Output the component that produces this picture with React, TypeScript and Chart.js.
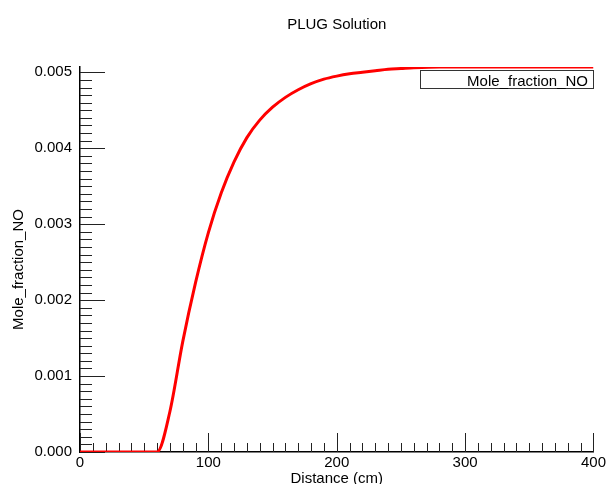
import React, { useEffect, useRef } from "react";
import { Chart, registerables } from "chart.js";

Chart.register(...registerables);

const distances = [0, 60, 70, 80, 90, 100, 110, 120, 130, 140, 150, 160, 170, 180, 190, 200, 210, 220, 230, 240, 250, 260, 280, 300, 320, 340, 360, 380, 400];
const moleFractionNO = [0, 0, 0.00053, 0.00145, 0.00223, 0.00289, 0.00341, 0.00382, 0.00414, 0.00437, 0.00454, 0.00467, 0.00477, 0.00485, 0.00491, 0.00495, 0.00498, 0.005, 0.00502, 0.00504, 0.00505, 0.00506, 0.00507, 0.00507, 0.00507, 0.00507, 0.00507, 0.00507, 0.00507];
const xTickValues = [0, 100, 200, 300, 400];
const yTickValues = [0, 0.001, 0.002, 0.003, 0.004, 0.005];

const chartTitle = "PLUG Solution";
const xTitle = "Distance (cm)";
const yTitle = "Mole_fraction_NO";
const seriesName = "Mole_fraction_NO";

const FONT = "'Liberation Sans', Arial, Helvetica, sans-serif";

const decorPlugin = {
  id: "decor",
  beforeDatasetsDraw(chart: any) {
    const ctx = chart.ctx;
    const xs = chart.scales.x;
    const ys = chart.scales.y;
    const area = chart.chartArea;
    ctx.save();
    ctx.strokeStyle = "#222";
    ctx.lineWidth = 1;
    ctx.beginPath();
    for (let i = 0; i <= 40; i++) {
      const v = i * 10;
      const px = Math.round(xs.getPixelForValue(v)) + 0.5;
      const len = i % 10 === 0 ? 19 : 9;
      ctx.moveTo(px, area.bottom);
      ctx.lineTo(px, area.bottom - len);
    }
    for (let i = 0; i <= 50; i++) {
      const v = i * 0.0001;
      const py = Math.round(ys.getPixelForValue(v)) + 0.5;
      const len = i % 10 === 0 ? 25 : 12;
      ctx.moveTo(area.left, py);
      ctx.lineTo(area.left + len, py);
    }
    ctx.stroke();
    ctx.restore();
  },
  afterDraw(chart: any) {
    const ctx = chart.ctx;
    const area = chart.chartArea;
    const cx = (area.left + area.right) / 2;
    ctx.save();
    ctx.fillStyle = "#000";
    ctx.font = `15px ${FONT}`;
    ctx.textAlign = "center";
    ctx.textBaseline = "alphabetic";
    ctx.fillText(chartTitle, cx, 29);
    ctx.fillText(xTitle, cx, 483);
    ctx.save();
    ctx.translate(23, (area.top + area.bottom) / 2 + 10);
    ctx.rotate(-Math.PI / 2);
    ctx.fillText(yTitle, 0, 0);
    ctx.restore();

    // legend box
    ctx.fillStyle = "#fff";
    ctx.fillRect(420.5, 70.5, 173, 18);
    ctx.strokeStyle = "#333";
    ctx.lineWidth = 1;
    ctx.strokeRect(420.5, 70.5, 173, 18);
    ctx.fillStyle = "#000";
    ctx.textAlign = "right";
    ctx.fillText(seriesName, 588, 86);
    ctx.restore();
  },
};

export default function App() {
  const ref = useRef<HTMLCanvasElement | null>(null);
  useEffect(() => {
    if (!ref.current) return;
    Chart.defaults.font.family = FONT;
    const chart = new Chart(ref.current, {
      type: "line",
      data: {
        datasets: [
          {
            label: seriesName,
            data: distances.map((d, i) => ({ x: d, y: moleFractionNO[i] })),
            borderColor: "#ff0000",
            backgroundColor: "#ff0000",
            borderWidth: 3,
            pointRadius: 0,
            cubicInterpolationMode: "monotone",
            fill: false,
          },
        ],
      },
      options: {
        animation: false,
        responsive: true,
        maintainAspectRatio: false,
        layout: { padding: { left: 0, right: 14, top: 67, bottom: 0 } },
        plugins: {
          legend: { display: false },
          title: { display: false },
          tooltip: { enabled: false },
        },
        scales: {
          x: {
            type: "linear",
            min: 0,
            max: 400,
            afterFit: (s: any) => {
              s.height = 32;
            },
            afterBuildTicks: (s: any) => {
              s.ticks = xTickValues.map((v) => ({ value: v }));
            },
            grid: { display: false, drawTicks: false },
            border: { display: true, color: "#000", width: 1.5 },
            ticks: {
              padding: 2,
              color: "#000",
              font: { size: 15, family: FONT },
              maxRotation: 0,
              callback: (v: any) => String(v),
            },
          },
          y: {
            type: "linear",
            min: 0,
            max: 0.00507,
            afterFit: (s: any) => {
              s.width = 80;
            },
            afterBuildTicks: (s: any) => {
              s.ticks = yTickValues.map((v) => ({ value: v }));
            },
            grid: { display: false, drawTicks: false },
            border: { display: true, color: "#000", width: 1.5 },
            ticks: {
              padding: 8,
              color: "#000",
              font: { size: 15, family: FONT },
              callback: (v: any) => Number(v).toFixed(3),
            },
          },
        },
      },
      plugins: [decorPlugin],
    });
    return () => chart.destroy();
  }, []);
  return (
    <div style={{ position: "absolute", left: 0, top: 0, width: 608, height: 484, background: "#fff" }}>
      <canvas ref={ref} />
    </div>
  );
}
